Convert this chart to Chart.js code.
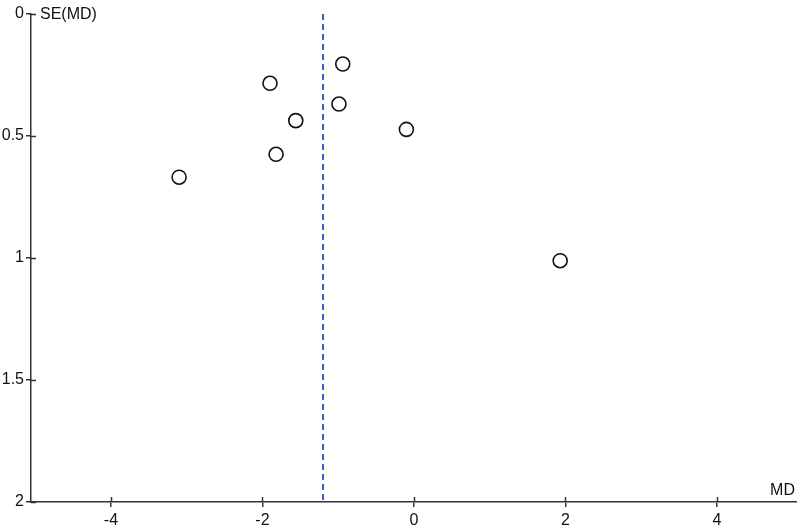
<!DOCTYPE html>
<html>
<head>
<meta charset="utf-8">
<script src="https://cdn.jsdelivr.net/npm/chart.js@4.4.1/dist/chart.umd.min.js"></script>
<style>
  html, body { margin: 0; padding: 0; background: #fff; }
  #funnel { display: block; }
</style>
</head>
<body>
<canvas id="funnel" width="797" height="526"></canvas>
<script>
// study estimates: mean difference and its standard error
const md = [-0.94, -1.90, -0.99, -1.56, -0.10, -1.82, -3.10, 1.93];
const seMd = [0.205, 0.284, 0.369, 0.437, 0.473, 0.575, 0.669, 1.011];
const pooledMd = -1.20;

const xTicks = [-4, -2, 0, 2, 4];
const yTicks = [0, 0.5, 1, 1.5, 2];

const X_TITLE = "MD";
const Y_TITLE = "SE(MD)";
const FONT = "'Liberation Sans', Arial, Helvetica, sans-serif";
const AXIS = "#333333";

// ticks that cross the axis line + axis captions
const axisExtras = {
  id: "axisExtras",
  afterDraw(chart) {
    const { ctx, chartArea, scales } = chart;
    ctx.save();
    ctx.strokeStyle = AXIS;
    ctx.lineWidth = 1.5;
    ctx.beginPath();
    xTicks.forEach(v => {
      const px = Math.round(scales.x.getPixelForValue(v)) + 0.5;
      ctx.moveTo(px, chartArea.bottom);
      ctx.lineTo(px, chartArea.bottom - 5);
    });
    yTicks.forEach(v => {
      const py = Math.round(scales.y.getPixelForValue(v)) + 0.5;
      ctx.moveTo(chartArea.left, py);
      ctx.lineTo(chartArea.left + 5, py);
    });
    ctx.stroke();

    ctx.fillStyle = "#111";
    ctx.font = "16px " + FONT;
    ctx.textBaseline = "alphabetic";
    ctx.textAlign = "left";
    ctx.fillText(Y_TITLE, chartArea.left + 9, chartArea.top + 5);
    ctx.textAlign = "right";
    ctx.fillText(X_TITLE, chartArea.right - 2, chartArea.bottom - 7);
    ctx.restore();
  }
};

function initChart() {
  const ctx = document.getElementById("funnel").getContext("2d");

  new Chart(ctx, {
    type: "scatter",
    data: {
      datasets: [
        {
          label: "Studies",
          data: md.map((m, i) => ({ x: m, y: seMd[i] })),
          pointRadius: 7,
          pointHoverRadius: 7,
          pointBorderWidth: 1.6,
          pointBorderColor: "#111",
          pointBackgroundColor: "#fff",
          showLine: false,
          order: 1
        },
        {
          label: "Pooled",
          data: [{ x: pooledMd, y: yTicks[0] }, { x: pooledMd, y: yTicks[yTicks.length - 1] }],
          showLine: true,
          borderColor: "#3a5cc6",
          borderWidth: 2,
          borderDash: [6, 4],
          pointRadius: 0,
          order: 2
        }
      ]
    },
    options: {
      responsive: false,
      animation: false,
      events: [],
      layout: { autoPadding: false, padding: { top: 14, right: 0, left: 0, bottom: 0 } },
      plugins: {
        legend: { display: false },
        tooltip: { enabled: false }
      },
      scales: {
        x: {
          type: "linear",
          min: -5.055,
          max: 5.056,
          afterBuildTicks: s => { s.ticks = xTicks.map(v => ({ value: v })); },
          afterFit: s => { s.height = 24; s.paddingLeft = 0; s.paddingRight = 0; },
          border: { color: AXIS, width: 1.5 },
          grid: { drawOnChartArea: false, drawTicks: true, tickLength: 5, color: AXIS, lineWidth: 1.5 },
          ticks: { color: "#111", font: { family: FONT, size: 16 }, padding: 4, maxRotation: 0, callback: v => String(v) }
        },
        y: {
          type: "linear",
          reverse: true,
          min: 0,
          max: 2,
          afterBuildTicks: s => { s.ticks = yTicks.map(v => ({ value: v })); },
          afterFit: s => { s.width = 31; s.paddingTop = 0; s.paddingBottom = 0; },
          border: { color: AXIS, width: 1.5 },
          grid: { drawOnChartArea: false, drawTicks: true, tickLength: 5, color: AXIS, lineWidth: 1.5 },
          ticks: { color: "#111", font: { family: FONT, size: 16 }, padding: 2, callback: v => String(v) }
        }
      }
    },
    plugins: [axisExtras]
  });
}

document.addEventListener("DOMContentLoaded", initChart);
</script>
</body>
</html>
